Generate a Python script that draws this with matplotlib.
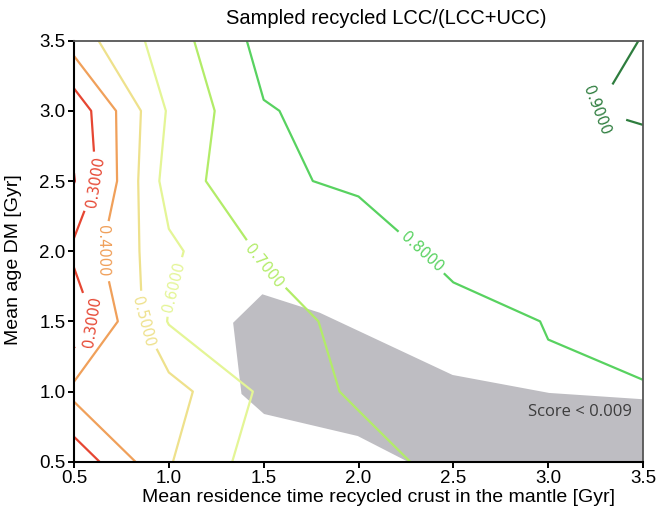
import matplotlib
matplotlib.use("Agg")
import matplotlib.pyplot as plt
import numpy as np

# grid of the sampled quantity (rows = mean age DM, cols = residence time)
residence_time = [0.5, 1.0, 1.5, 2.0, 2.5, 3.0, 3.5]
mean_age_dm = [0.5, 1.0, 1.5, 2.0, 2.5, 3.0, 3.5]
ratio_age_0_5 = [0.229, 0.493, 0.653, 0.645, 0.746, 0.770, 0.780]
ratio_age_1_0 = [0.429, 0.460, 0.618, 0.7205, 0.750, 0.792, 0.798]
ratio_age_1_5 = [0.222, 0.607, 0.648, 0.738, 0.770, 0.8028, 0.810]
ratio_age_2_0 = [0.324, 0.579, 0.713, 0.754, 0.824, 0.830, 0.815]
ratio_age_2_5 = [0.196, 0.645, 0.786, 0.813, 0.830, 0.840, 0.820]
ratio_age_3_0 = [0.231, 0.612, 0.794, 0.830, 0.850, 0.879, 0.920]
ratio_age_3_5 = [0.447, 0.652, 0.832, 0.850, 0.860, 0.860, 0.902]

levels = [0.2, 0.3, 0.4, 0.5, 0.6, 0.7, 0.8, 0.9]
level_colors = ["#c8302c", "#e64632", "#f0a05a", "#eee18c", "#e4f596",
                "#b2ec68", "#58d260", "#2e7d3e"]

# region where score < 0.009
score_region_x = [1.339, 1.493, 1.795, 2.496, 3.005, 3.5, 3.5, 2.26, 1.996, 1.502, 1.383]
score_region_y = [1.49, 1.693, 1.562, 1.118, 0.99, 0.945, 0.5, 0.5, 0.683, 0.84, 0.983]

# label anchor positions (data coords)
label_pos_x = [0.617, 0.597, 0.648, 0.862, 1.03, 1.505, 2.33, 3.25]
label_pos_y = [2.49, 1.50, 2.00, 1.50, 1.745, 1.90, 1.99, 2.99]

Z = np.array([ratio_age_0_5, ratio_age_1_0, ratio_age_1_5, ratio_age_2_0,
              ratio_age_2_5, ratio_age_3_0, ratio_age_3_5])
X, Y = np.meshgrid(residence_time, mean_age_dm)

narrow = ["Liberation Sans Narrow", "Liberation Sans", "DejaVu Sans"]

fig = plt.figure(figsize=(6.57, 5.15), dpi=100)
ax = fig.add_axes([74 / 657, 1 - 461.7 / 515, 569 / 657, 421 / 515])

ax.fill(score_region_x, score_region_y, color="#bebdc2", lw=0, zorder=1)

cs = ax.contour(X, Y, Z, levels=levels, colors=level_colors, linewidths=1.6, zorder=2)
ax.set_xlim(0.5, 3.5)
ax.set_ylim(0.5, 3.5)
ax.clabel(cs, fmt="%.4f", fontsize=10.5, inline=True,
          manual=list(zip(label_pos_x, label_pos_y)))

ax.text(3.44, 0.857, "Score < 0.009", ha="right", va="center", fontsize=12,
        color="#3d3d3d", family=["Open Sans", "DejaVu Sans"], zorder=3)

ax.set_xticks([0.5, 1.0, 1.5, 2.0, 2.5, 3.0, 3.5])
ax.set_yticks([0.5, 1.0, 1.5, 2.0, 2.5, 3.0, 3.5])
ax.set_xticklabels(["0.5", "1.0", "1.5", "2.0", "2.5", "3.0", "3.5"])
ax.set_yticklabels(["0.5", "1.0", "1.5", "2.0", "2.5", "3.0", "3.5"])
for lab in ax.get_xticklabels() + ax.get_yticklabels():
    lab.set_family(narrow)
    lab.set_fontsize(13.5)
ax.tick_params(direction="out", length=4, width=1.4, color="black", pad=2)

for s in ["left", "bottom"]:
    ax.spines[s].set_color("black")
    ax.spines[s].set_linewidth(1.5)
for s in ["top", "right"]:
    ax.spines[s].set_color("#555555")
    ax.spines[s].set_linewidth(1.3)

ax.set_xlabel("Mean residence time recycled crust in the mantle [Gyr]",
              family=narrow, fontsize=14)
ax.set_ylabel("Mean age DM [Gyr]", family=narrow, fontsize=14)
ax.xaxis.set_label_coords((378 - 74) / 569, -(497 - 461.7) / 421)
ax.yaxis.set_label_coords(-(74 - 14) / 569, (461.7 - 260) / 421)
ax.xaxis.label.set_va("center")
ax.yaxis.label.set_va("center")
fig.text(386 / 657, 1 - 19 / 515, "Sampled recycled LCC/(LCC+UCC)",
         ha="center", va="center", fontsize=14.5, family=narrow)

fig.savefig("out.png", dpi=100)
